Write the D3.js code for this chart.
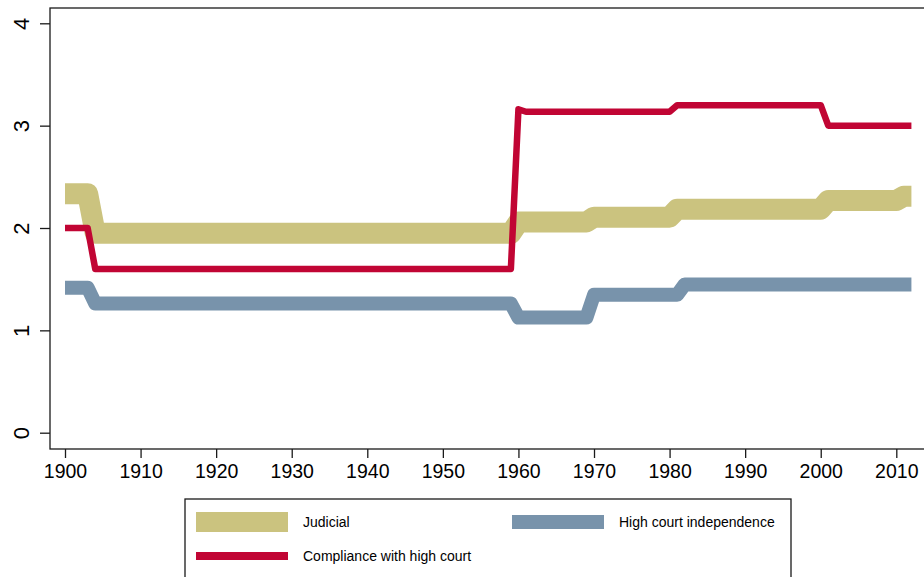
<!DOCTYPE html>
<html>
<head>
<meta charset="utf-8">
<script src="https://cdn.jsdelivr.net/npm/d3@7"></script>
<style>
  html, body { margin: 0; padding: 0; background: #fff; }
  svg { display: block; font-family: "Liberation Sans", Arial, sans-serif; }
</style>
</head>
<body>
<svg id="chart" width="924" height="577"></svg>
<script>
// Years at which any of the series changes value (lines run straight between them)
const years = [1900, 1903, 1904, 1959, 1960, 1961, 1969, 1970, 1980, 1981, 1982, 2000, 2001, 2010, 2011, 2012];

const judicial   = [2.335, 2.335, 1.948, 1.948, 2.058, 2.058, 2.058, 2.106, 2.106, 2.184, 2.184, 2.184, 2.269, 2.269, 2.31, 2.31];
const compliance = [2.0, 2.0, 1.6, 1.6, 3.16, 3.136, 3.136, 3.136, 3.136, 3.2, 3.2, 3.2, 3.0, 3.0, 3.0, 3.0];
const highCourt  = [1.416, 1.416, 1.262, 1.262, 1.125, 1.125, 1.125, 1.347, 1.347, 1.347, 1.448, 1.448, 1.448, 1.448, 1.448, 1.448];

const xTicks = [1900, 1910, 1920, 1930, 1940, 1950, 1960, 1970, 1980, 1990, 2000, 2010];
const yTicks = [0, 1, 2, 3, 4];

const seriesNames = ["Judicial", "Compliance with high court", "High court independence"];

const svg = d3.select("#chart");

const x = d3.scaleLinear().domain([1900, 2010]).range([65, 896.3]);
const y = d3.scaleLinear().domain([0, 4]).range([432.7, 23.3]);

// Plot frame
svg.append("rect")
  .attr("x", 50).attr("y", 8)
  .attr("width", 900).attr("height", 441)
  .attr("fill", "none")
  .attr("stroke", "#1a1a1a")
  .attr("stroke-width", 1.3);

// Axes
const xAxis = svg.append("g")
  .attr("transform", "translate(0,449)")
  .call(d3.axisBottom(x).tickValues(xTicks).tickFormat(d3.format("d")).tickSize(9).tickPadding(6));
xAxis.select(".domain").remove();
xAxis.selectAll("line").attr("stroke", "#1a1a1a").attr("stroke-width", 1.3);
xAxis.selectAll("text").attr("font-size", 19.5).attr("fill", "#000")
  .attr("font-family", "Liberation Sans, Arial, sans-serif");

const yAxis = svg.append("g")
  .attr("transform", "translate(50,0)")
  .call(d3.axisLeft(y).tickValues(yTicks).tickFormat(d3.format("d")).tickSize(10));
yAxis.select(".domain").remove();
yAxis.selectAll("line").attr("stroke", "#1a1a1a").attr("stroke-width", 1.3);
yAxis.selectAll("text")
  .attr("font-size", 22).attr("fill", "#000")
  .attr("font-family", "Liberation Sans, Arial, sans-serif")
  .attr("x", null).attr("dy", null)
  .attr("text-anchor", "middle")
  .attr("transform", "translate(-21.5,0) rotate(-90)");

// Lines
const series = [
  { name: seriesNames[0], values: judicial,   color: "#cbc37f", width: 21, key: 20 },
  { name: seriesNames[2], values: highCourt,  color: "#7893ab", width: 14, key: 14 },
  { name: seriesNames[1], values: compliance, color: "#c10534", width: 6.5, key: 8 }
];

const line = d3.line()
  .x(d => x(d[0]))
  .y(d => y(d[1]));

svg.append("g").selectAll("path")
  .data(series)
  .join("path")
  .attr("d", s => line(years.map((yr, i) => [yr, s.values[i]])))
  .attr("fill", "none")
  .attr("stroke", s => s.color)
  .attr("stroke-width", s => s.width)
  .attr("stroke-linejoin", "round")
  .attr("stroke-linecap", "butt");

// Legend
const legend = svg.append("g");
legend.append("rect")
  .attr("x", 185).attr("y", 499)
  .attr("width", 606).attr("height", 100)
  .attr("fill", "#fff")
  .attr("stroke", "#1a1a1a")
  .attr("stroke-width", 1.3);

const legendItems = [
  { s: series[0], x: 196, y: 522 },
  { s: series[1], x: 512, y: 522 },
  { s: series[2], x: 196, y: 556 }
];
legendItems.forEach(it => {
  legend.append("line")
    .attr("x1", it.x).attr("x2", it.x + 92)
    .attr("y1", it.y).attr("y2", it.y)
    .attr("stroke", it.s.color)
    .attr("stroke-width", it.s.key);
  legend.append("text")
    .attr("x", it.x + 107).attr("y", it.y + 5)
    .attr("font-size", 14)
    .attr("fill", "#000")
    .text(it.s.name);
});
</script>
</body>
</html>
